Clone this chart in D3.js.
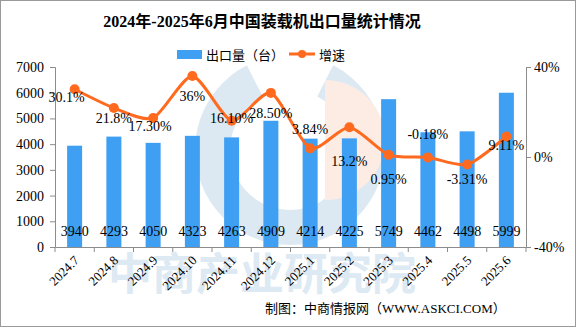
<!DOCTYPE html>
<html>
<head>
<meta charset="utf-8">
<script src="https://cdn.jsdelivr.net/npm/d3@7/dist/d3.min.js"></script>
<style>
body { margin: 0; background: #fff; }
svg text { font-family: "Liberation Serif", "DejaVu Serif", "Noto Sans CJK SC", serif; }
</style>
</head>
<body>
<svg id="chart" width="576" height="327"></svg>
<script>
var months = ["2024.7", "2024.8", "2024.9", "2024.10", "2024.11", "2024.12", "2025.1", "2025.2", "2025.3", "2025.4", "2025.5", "2025.6"];
var exports = [3940, 4293, 4050, 4323, 4263, 4909, 4214, 4225, 5749, 4462, 4498, 5999];
var growth = [30.1, 21.8, 17.3, 36, 16.1, 28.5, 3.84, 13.2, 0.95, -0.18, -3.31, 9.11];
var growthLabels = ["30.1%", "21.8%", "17.30%", "36%", "16.10%", "28.50%", "3.84%", "13.2%", "0.95%", "-0.18%", "-3.31%", "9.11%"];
var leftTicks = [0, 1000, 2000, 3000, 4000, 5000, 6000, 7000];
var rightTicks = [-40, 0, 40];

// label placement around each point (pixels)
var labelDx = [-8, 0, -3, 0, 0, 0, 0, 0, 0, 0, 0, 0];
var labelDy = [8, 10, 8, 20, -3, 20, -19, 34, 24, -23, 15, 9];

var margin = {top: 67, right: 50, bottom: 80, left: 55};
var W = 576, H = 327;
var width = W - margin.left - margin.right;
var height = H - margin.top - margin.bottom;

var svg = d3.select("#chart");
var barColor = "#3f9ff2";
var lineColor = "#ff6a1f";
var axisColor = "#8c8c8c";

svg.append("rect").attr("x", 0.5).attr("y", 0.5).attr("width", W - 1).attr("height", H - 1)
	.attr("fill", "#fff").attr("stroke", "#9a9a9a");

// watermark
var wm = svg.append("g").attr("opacity", 0.2);
wm.append("path")
	.attr("transform", "translate(290,150)")
	.attr("d", d3.arc().innerRadius(60).outerRadius(95).startAngle(Math.PI * 0.15).endAngle(Math.PI * 1.85)())
	.attr("fill", "#5b97c2");
wm.append("path")
	.attr("transform", "translate(325,140)")
	.attr("d", d3.arc().innerRadius(0).outerRadius(60).startAngle(0).endAngle(Math.PI)())
	.attr("fill", "#f4a27c");
svg.append("text").attr("x", 262).attr("y", 290).attr("text-anchor", "middle")
	.attr("font-size", 44).attr("font-weight", "bold").attr("fill", "#bcd5e8").attr("opacity", 0.5)
	.style("font-family", "'Noto Sans CJK SC', sans-serif")
	.text("中商产业研究院");

var g = svg.append("g").attr("transform", "translate(" + margin.left + "," + margin.top + ")");

var x = d3.scaleBand().domain(months).range([0, width]);
var y = d3.scaleLinear().domain([0, 7000]).range([height, 0]);
var y2 = d3.scaleLinear().domain([-40, 40]).range([height, 0]);

// left axis
var yAxis = g.append("g")
	.call(d3.axisLeft(y).tickValues(leftTicks).tickSize(5).tickPadding(6).tickFormat(d3.format("d")));
yAxis.selectAll("text").attr("font-size", 14).attr("fill", "#000");

// right axis
var y2Axis = g.append("g").attr("transform", "translate(" + width + ",0)")
	.call(d3.axisRight(y2).tickValues(rightTicks).tickSize(5).tickPadding(3).tickFormat(function(d){ return d + "%"; }));
y2Axis.selectAll("text").attr("font-size", 14).attr("fill", "#000");

// x axis
var xAxis = g.append("g").attr("transform", "translate(0," + height + ")")
	.call(d3.axisBottom(x).tickSize(0).tickFormat(""));
xAxis.selectAll(".xt")
	.data(d3.range(months.length + 1))
	.enter().append("line")
	.attr("x1", function(i){ return i * x.step(); })
	.attr("x2", function(i){ return i * x.step(); })
	.attr("y1", 0).attr("y2", 5)
	.attr("stroke", axisColor);

[yAxis, y2Axis, xAxis].forEach(function(a){
	a.selectAll("path, line").attr("stroke", axisColor);
});

g.selectAll(".xlab")
	.data(months)
	.enter().append("text")
	.attr("class", "xlab")
	.attr("transform", function(d){ return "translate(" + (x(d) + x.bandwidth() / 2 + 2) + "," + (height + 11) + ") rotate(-45)"; })
	.attr("text-anchor", "end")
	.attr("dy", "0.35em")
	.attr("font-size", 13)
	.attr("fill", "#000")
	.text(function(d){ return d; });

// bars
var barW = 15;
g.selectAll(".bar")
	.data(exports)
	.enter().append("rect")
	.attr("class", "bar")
	.attr("x", function(d, i){ return x(months[i]) + x.bandwidth() / 2 - barW / 2; })
	.attr("y", function(d){ return y(d); })
	.attr("width", barW)
	.attr("height", function(d){ return height - y(d); })
	.attr("fill", barColor);

g.selectAll(".vlab")
	.data(exports)
	.enter().append("text")
	.attr("x", function(d, i){ return x(months[i]) + x.bandwidth() / 2; })
	.attr("y", height - 11)
	.attr("text-anchor", "middle")
	.attr("font-size", 14)
	.attr("fill", "#000")
	.text(function(d){ return d; });

// growth line
var line = d3.line()
	.x(function(d, i){ return x(months[i]) + x.bandwidth() / 2; })
	.y(function(d){ return y2(d); })
	.curve(d3.curveCardinal.tension(0.3));

g.append("path")
	.datum(growth)
	.attr("fill", "none")
	.attr("stroke", lineColor)
	.attr("stroke-width", 3)
	.attr("d", line);

g.selectAll(".dot")
	.data(growth)
	.enter().append("circle")
	.attr("cx", function(d, i){ return x(months[i]) + x.bandwidth() / 2; })
	.attr("cy", function(d){ return y2(d); })
	.attr("r", 5)
	.attr("fill", lineColor);

g.selectAll(".glab")
	.data(growth)
	.enter().append("text")
	.attr("x", function(d, i){ return x(months[i]) + x.bandwidth() / 2 + labelDx[i]; })
	.attr("y", function(d, i){ return y2(d) + labelDy[i]; })
	.attr("dy", "0.35em")
	.attr("text-anchor", "middle")
	.attr("font-size", 14)
	.attr("fill", "#000")
	.text(function(d, i){ return growthLabels[i]; });

// title
svg.append("text").attr("x", 262).attr("y", 27).attr("text-anchor", "middle")
	.attr("font-size", 16).attr("font-weight", "bold").attr("fill", "#000")
	.text("2024年-2025年6月中国装载机出口量统计情况");

// legend
var lg = svg.append("g");
lg.append("rect").attr("x", 177).attr("y", 50).attr("width", 25).attr("height", 9).attr("fill", barColor);
lg.append("text").attr("x", 206).attr("y", 55).attr("dy", "0.35em").attr("font-size", 13).text("出口量（台）");
lg.append("line").attr("x1", 289).attr("x2", 315).attr("y1", 54).attr("y2", 54)
	.attr("stroke", lineColor).attr("stroke-width", 3);
lg.append("circle").attr("cx", 302).attr("cy", 54).attr("r", 4).attr("fill", lineColor);
lg.append("text").attr("x", 319).attr("y", 55).attr("dy", "0.35em").attr("font-size", 13).text("增速");

// source
svg.append("text").attr("x", 265).attr("y", 313).attr("font-size", 13).attr("fill", "#000")
	.text("制图：中商情报网（WWW.ASKCI.COM）");
</script>
</body>
</html>
